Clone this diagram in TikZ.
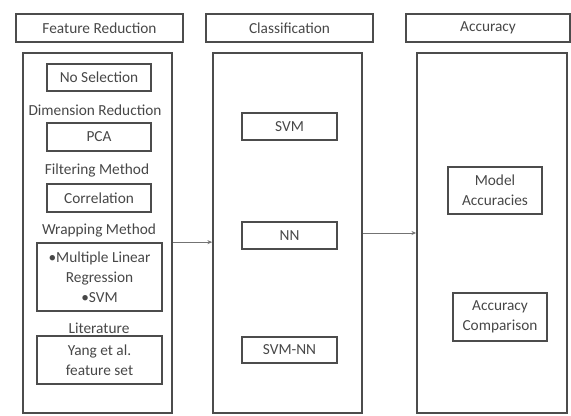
\documentclass[tikz,border=0pt]{standalone}
\usepackage{fontspec}
\setmainfont{Carlito}
\usetikzlibrary{arrows.meta}
\begin{document}
\begin{tikzpicture}[x=0.75pt,y=-0.75pt,
  every node/.style={font=\fontsize{11.5}{15}\selectfont, text=black!72},
  box/.style={draw=black!70, line width=1.3pt, inner sep=0pt, align=center},
  lbl/.style={inner sep=0pt},
  conn/.style={draw=black!55, line width=0.6pt, -{Stealth[length=3.5pt,width=3pt]}}]
\useasboundingbox (0,0) rectangle (571,416);
% Feature Reduction column
\node[box, minimum width=125pt, minimum height=21pt] (frh) at (99.5,28) {Feature Reduction};
\node[box, minimum width=111.75pt, minimum height=270pt] (frbox) at (97.5,233) {};
\node[box, minimum width=78pt, minimum height=20.25pt] (nosel) at (99,77.5) {No Selection};
\node[lbl] (dimt) at (95,110) {Dimension Reduction};
\node[box, minimum width=78pt, minimum height=21pt] (pca) at (99,137) {PCA};
\node[lbl] (filt) at (97,170) {Filtering Method};
\node[box, minimum width=78pt, minimum height=21pt] (corr) at (99,198) {Correlation};
\node[lbl] (wrapt) at (99,230) {Wrapping Method};
\node[box, minimum width=93.75pt, minimum height=51pt] (wrap) at (99.5,277) {\textbullet Multiple Linear\\Regression\\\textbullet SVM};
\node[lbl] (lit) at (99,328) {Literature};
\node[box, minimum width=93.75pt, minimum height=36pt] (yang) at (99.5,360) {Yang et al.\\feature set};
% Classification column
\node[box, minimum width=125pt, minimum height=21pt] (clh) at (289.5,28) {Classification};
\node[box, minimum width=111.75pt, minimum height=270pt] (clbox) at (287.5,233) {};
\node[box, minimum width=71.25pt, minimum height=20.25pt] (svm) at (289.5,126.5) {SVM};
\node[box, minimum width=71.25pt, minimum height=20.25pt] (nn) at (289.5,235.5) {NN};
\node[box, minimum width=71.25pt, minimum height=19.5pt] (svmnn) at (289.5,350) {SVM-NN};
% Accuracy column
\node[box, minimum width=123pt, minimum height=21pt] (ach) at (488,28) {Accuracy};
\node[box, minimum width=112.5pt, minimum height=270pt] (acbox) at (492,233) {};
\node[box, minimum width=70.5pt, minimum height=35.25pt] (ma) at (495,190.5) {Model\\Accuracies};
\node[box, minimum width=70.5pt, minimum height=36pt] (acc) at (500,317) {Accuracy\\Comparison};
% connectors
\draw[conn] (frbox.east |- wrap.north) -- (clbox.west |- wrap.north);
\draw[conn] (clbox.east) -- (acbox.west);
\end{tikzpicture}
\end{document}
